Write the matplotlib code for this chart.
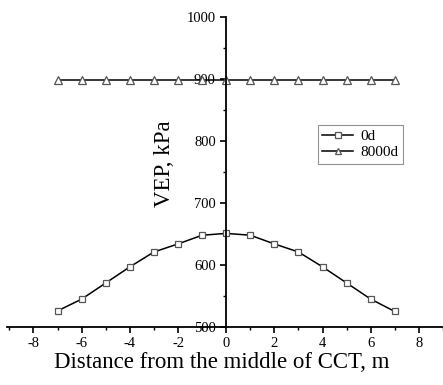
import matplotlib
matplotlib.use("Agg")
import matplotlib.pyplot as plt
from matplotlib.ticker import MultipleLocator

plt.rcParams['font.family'] = ['Liberation Serif', 'DejaVu Serif']
plt.rcParams['axes.unicode_minus'] = False

# data
dist = [-7, -6, -5, -4, -3, -2, -1, 0, 1, 2, 3, 4, 5, 6, 7]
vep_0d = [526, 545, 571, 597, 621, 634, 648, 651, 648, 634, 621, 597, 571, 545, 525]
vep_8000d = [899] * 15
series_names = ['0d', '8000d']

fig = plt.figure(figsize=(4.43, 3.85), dpi=100)
ax = fig.add_axes([7/443, 58/385, 436/443, 310/385])

ax.plot(dist, vep_0d, color='black', lw=1.1, marker='s', ms=5,
        mfc='white', mec='#555555', mew=0.9, label=series_names[0])
ax.plot(dist, vep_8000d, color='black', lw=1.1, marker='^', ms=5.5,
        mfc='white', mec='#555555', mew=0.9, label=series_names[1])

ax.set_xlim(-9.1, 9.0)
ax.set_ylim(500, 1000)

# axes cross at (0, 500)
ax.spines['left'].set_position(('data', 0))
ax.spines['bottom'].set_position(('data', 500))
ax.spines['top'].set_visible(False)
ax.spines['right'].set_visible(False)
for s in ('left', 'bottom'):
    ax.spines[s].set_linewidth(1.3)

ax.xaxis.set_major_locator(MultipleLocator(2))
ax.xaxis.set_minor_locator(MultipleLocator(1))
ax.yaxis.set_major_locator(MultipleLocator(100))
ax.yaxis.set_minor_locator(MultipleLocator(50))
ax.tick_params(which='major', direction='out', length=4, width=1.2, labelsize=10.5)
ax.tick_params(which='minor', direction='out', length=2.5, width=1.0)

ax.set_xlabel('Distance from the middle of CCT, m', fontsize=16.5)
ax.xaxis.set_label_coords(0.493, -0.08)
ax.set_ylabel('VEP, kPa', fontsize=16.5)
ax.yaxis.set_label_coords(0.385, 0.528)

leg = ax.legend(loc='upper left', bbox_to_anchor=(0.713, 0.652), fontsize=11,
                frameon=True, fancybox=False, handlelength=2.0, borderaxespad=0,
                borderpad=0.3, labelspacing=0.15, handletextpad=0.5, markerscale=0.85)
leg.get_frame().set_edgecolor('#777777')
leg.get_frame().set_linewidth(0.8)

fig.savefig('out.png', dpi=100)
